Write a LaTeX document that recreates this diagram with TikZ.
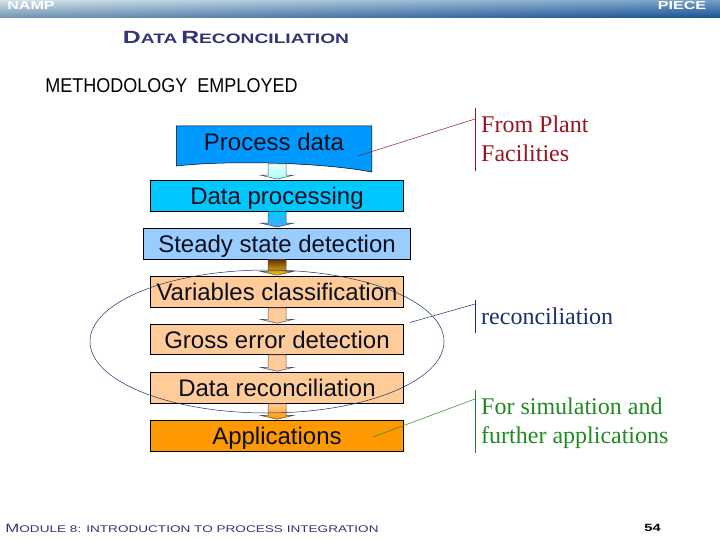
\documentclass[tikz,border=0pt]{standalone}
\usepackage{fontspec}
\setmainfont{Liberation Serif}
\setsansfont{Liberation Sans}
\newfontfamily\capsfont[FakeStretch=1.4,BoldFont={Liberation Sans Bold}]{Liberation Sans}
\newfontfamily\narrowfont[FakeStretch=0.9]{Liberation Sans}
\usetikzlibrary{shapes.geometric,calc,backgrounds}
\definecolor{titleblue}{HTML}{333377}
\definecolor{redline}{HTML}{9A1420}
\definecolor{navyline}{HTML}{1A2F6E}
\definecolor{greenline}{HTML}{1F8A1F}
\definecolor{peach}{HTML}{FFCC99}
\definecolor{procblue}{HTML}{0099FF}
\definecolor{dprocblue}{HTML}{00C8FF}
\definecolor{steadyblue}{HTML}{99CCFF}
\definecolor{appsorange}{HTML}{FF9900}
\definecolor{headleft}{HTML}{B5D0DE}
\definecolor{headmid}{HTML}{6FB5E0}
\definecolor{headright}{HTML}{1B5FA5}
\definecolor{headdark}{HTML}{0A3A70}
\definecolor{inktext}{HTML}{0A0F1E}
\tikzset{
    stepbox/.style={draw=black, line width=0.5pt, minimum width=253, minimum height=31, inner sep=0pt, text=inktext, text height=17, text depth=0, font=\sffamily\fontsize{24}{24}\selectfont},
    flow/.style={draw=black!70, line width=0.5pt},
    side/.style={anchor=west, align=left, inner sep=0pt, font=\rmfamily\fontsize{24}{29}\selectfont},
    bar/.style={line width=0.7pt}
}
\begin{document}
\begin{tikzpicture}[x=1pt, y=-1pt]
    \useasboundingbox (0,0) rectangle (720,540);
    \shade[left color=headleft, middle color=headmid, right color=headright] (0,0) rectangle (720,18);
    \shade[top color=white, bottom color=headdark, opacity=0.4] (0,0) rectangle (720,18);
    \draw (31,6) node[text=white, font=\capsfont\bfseries\fontsize{11.5}{11.5}\selectfont](namp){NAMP};
    \draw (682,6) node[text=white, font=\capsfont\bfseries\fontsize{11.5}{11.5}\selectfont](piece){PIECE};
    \draw (236,37) node[text=titleblue, font=\capsfont\bfseries](title){{\fontsize{17.7}{17.7}\selectfont D}{\fontsize{13.7}{13.7}\selectfont ATA} {\fontsize{17.7}{17.7}\selectfont R}{\fontsize{13.7}{13.7}\selectfont ECONCILIATION}};
    \draw (171.5,86) node[font=\narrowfont\fontsize{20}{20}\selectfont](method){METHODOLOGY\ \ EMPLOYED};

    \draw (274,145) node[stepbox, draw=none, text height=12, minimum width=195, minimum height=37.5](proc){Process data};
    \begin{scope}[on background layer]
        \draw[fill=procblue, line width=0.5pt] (proc.north west) -- (proc.north east) -- ([yshift=-8]proc.south east) .. controls ([xshift=-50,yshift=1.5]proc.south east) and ([xshift=-44,yshift=4]proc.south) .. ([yshift=-2]proc.south west) -- cycle;
    \end{scope}
    \draw (277,195.8) node[stepbox, fill=dprocblue](dproc){Data processing};
    \draw (277,243.8) node[stepbox, fill=steadyblue, minimum width=267](steady){Steady state detection};
    \draw (277,292) node[stepbox, fill=peach](vars){Variables classification};
    \draw (277,339.5) node[stepbox, minimum height=30, fill=peach](gross){Gross error detection};
    \draw (277,388) node[stepbox, fill=peach](recon){Data reconciliation};
    \draw (277,436) node[stepbox, fill=appsorange](apps){Applications};

    \foreach \from/\to/\ctop/\cbot in {proc/dproc/cyan!10!white/cyan!35!white, dproc/steady/dprocblue/blue!50!cyan!70!white, steady/vars/black!60!orange/yellow!50!orange!90!white, vars/gross/peach/peach, gross/recon/peach/peach, recon/apps/peach/appsorange}{
        \draw[flow, top color=\ctop, bottom color=\cbot] ($(\to.north |- \from.south)+(-9,0)$) -- ($(\to.north)+(-9,-5)$) -- ($(\to.north)+(-17,-5)$) -- ($(\to.north)+(0,-1)$) -- ($(\to.north)+(17,-5)$) -- ($(\to.north)+(9,-5)$) -- ($(\to.north |- \from.south)+(9,0)$) -- cycle;
    }

    \draw (267,341.5) node[draw=navyline, ellipse, line width=0.5pt, minimum width=354, minimum height=143, inner sep=0pt](loop){};

    \draw (475,108) coordinate(redtop);
    \draw (475,171) coordinate(redbot);
    \draw (475,119) coordinate(redjoin);
    \draw[bar, redline] (redtop) -- (redbot);
    \draw[redline, line width=0.5pt] ($(proc.south east)+(-14,-8)$) -- (redjoin);
    \draw (481,138.5) node[side, text=redline](plant){From Plant\\Facilities};

    \draw (475,300) coordinate(bluetop);
    \draw (475,333) coordinate(bluebot);
    \draw (475,304) coordinate(bluejoin);
    \draw (410,322.5) coordinate(bluefree);
    \draw[bar, navyline] (bluetop) -- (bluebot);
    \draw[navyline, line width=0.5pt] (bluefree) -- (bluejoin);
    \draw (481,316) node[side, text=navyline](rectext){reconciliation};

    \draw (475,390) coordinate(greentop);
    \draw (475,453) coordinate(greenbot);
    \draw (475,399) coordinate(greenjoin);
    \draw[bar, greenline] (greentop) -- (greenbot);
    \draw[greenline, line width=0.5pt] ($(apps.center)+(96,1)$) -- (greenjoin);
    \draw (481,423.5) node[side, text=greenline](sim){For simulation and\\further applications};

    \draw (192,528) node[text=titleblue, font=\capsfont](module){{\fontsize{12}{12}\selectfont M}{\fontsize{9.7}{9.7}\selectfont ODULE 8: INTRODUCTION TO PROCESS INTEGRATION}};
    \draw (652.5,528) node[font=\capsfont\bfseries\fontsize{10.5}{10.5}\selectfont](page){54};
\end{tikzpicture}
\end{document}
